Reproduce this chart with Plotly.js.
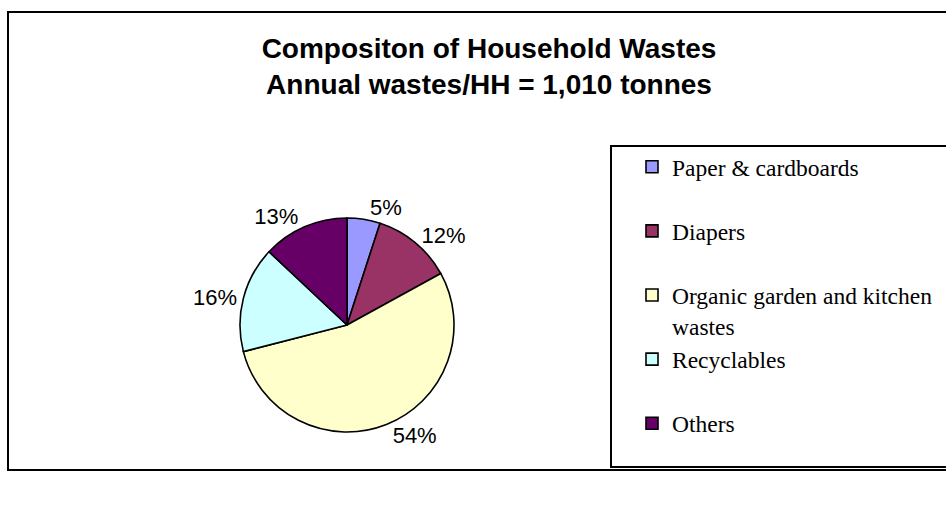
<!DOCTYPE html>
<html>
<head>
<meta charset="utf-8">
<script src="https://cdn.plot.ly/plotly-3.0.1.min.js"></script>
<style>html,body{margin:0;padding:0;background:#fff;}#chart{width:946px;height:520px;}</style>
</head>
<body>
<div id="chart"></div>
<script>
var categories = ["Paper & cardboards", "Diapers", "Organic garden and kitchen<br>wastes", "Recyclables", "Others"];
var shares = [5, 12, 54, 16, 13];
var colors = ["#9999FF", "#993366", "#FFFFCC", "#CCFFFF", "#660066"];
var titleLines = ["Compositon of Household Wastes", "Annual wastes/HH = 1,010 tonnes"];

// pad single-line legend names so every legend entry has equal height
var legendNames = categories.map(function (c) { return c.indexOf("<br>") >= 0 ? c : c + "<br> "; });

var W = 946, H = 520;
var cx = 347, cy = 325, R = 107;

var trace = {
  type: "pie",
  labels: legendNames,
  values: shares,
  sort: false,
  direction: "clockwise",
  rotation: 0,
  marker: { colors: colors, line: { color: "#000000", width: 1.6 } },
  textposition: "outside",
  texttemplate: "%{percent:.0%}",
  outsidetextfont: { family: "Liberation Sans, Arial, sans-serif", size: 22, color: "#000000" },
  hoverinfo: "none",
  domain: { x: [(cx - R) / W, (cx + R) / W], y: [(H - cy - R) / H, (H - cy + R) / H] }
};

var layout = {
  width: W, height: H,
  margin: { l: 0, r: 0, t: 0, b: 0 },
  paper_bgcolor: "#ffffff",
  title: {
    text: "<b>" + titleLines[0] + "</b><br><b>" + titleLines[1] + "</b>",
    font: { family: "Liberation Sans, Arial, sans-serif", size: 28, color: "#000000" },
    x: 489 / W, xanchor: "center", xref: "paper",
    y: 1 - 58 / H, yanchor: "top", yref: "paper"
  },
  showlegend: true,
  legend: {
    x: 632 / W, xanchor: "left",
    y: 1 - 145 / H, yanchor: "top",
    bgcolor: "rgba(0,0,0,0)", borderwidth: 0,
    valign: "top",
    font: { family: "Liberation Serif, Times New Roman, serif", size: 23.5, color: "#000000" }
  },
  shapes: [
    { type: "rect", xref: "paper", yref: "paper", x0: 8 / W, x1: 1.02, y0: 1 - 470 / H, y1: 1 - 12 / H,
      line: { color: "#000000", width: 2 }, fillcolor: "rgba(0,0,0,0)", layer: "below" },
    { type: "rect", xref: "paper", yref: "paper", x0: 611 / W, x1: 1.02, y0: 1 - 467 / H, y1: 1 - 146 / H,
      line: { color: "#000000", width: 2 }, fillcolor: "rgba(0,0,0,0)", layer: "below" }
  ]
};

Plotly.newPlot("chart", [trace], layout, { staticPlot: true, displayModeBar: false });
</script>
</body>
</html>
